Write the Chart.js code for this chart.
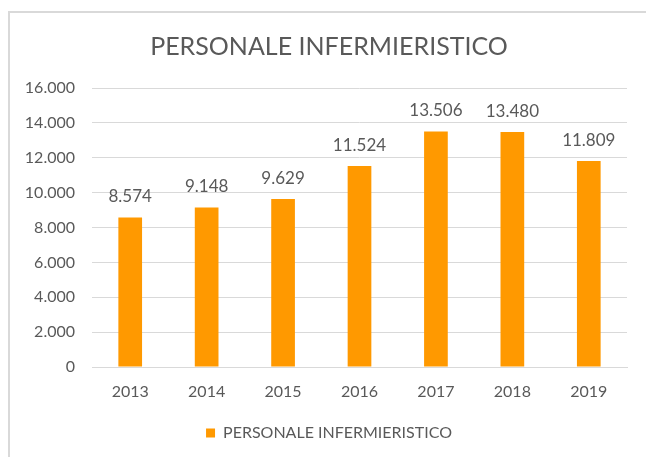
<!DOCTYPE html>
<html>
<head>
<meta charset="utf-8">
<script src="https://cdn.jsdelivr.net/npm/chart.js@4"></script>
<style>
  body { margin: 0; background: #fff; }
  #wrap { position: relative; width: 646px; height: 457px; }
</style>
</head>
<body>
<div id="wrap"><canvas id="nurseChart" width="646" height="457"></canvas></div>
<script>
const categories = ['2013', '2014', '2015', '2016', '2017', '2018', '2019'];
const nurses = [8574, 9148, 9629, 11524, 13506, 13480, 11809];
const yMin = 0, yMax = 16000, yStep = 2000;
const seriesName = 'PERSONALE INFERMIERISTICO';

const textColor = '#595959';
const gridColor = '#d9d9d9';
const barColor = '#ff9900';

// 8574 -> "8.574"
function fmt(v) {
  return String(v).replace(/\B(?=(\d{3})+(?!\d))/g, '.');
}

// white background and the grey frame round the chart
const framePlugin = {
  id: 'frame',
  beforeDraw(chart) {
    const ctx = chart.ctx;
    ctx.save();
    ctx.fillStyle = '#fff';
    ctx.fillRect(0, 0, chart.width, chart.height);
    ctx.strokeStyle = gridColor;
    ctx.lineWidth = 2;
    ctx.strokeRect(9, 12, 700, 500);
    ctx.restore();
  }
};

// value above each bar
const valueLabels = {
  id: 'valueLabels',
  afterDatasetsDraw(chart) {
    const ctx = chart.ctx;
    const meta = chart.getDatasetMeta(0);
    ctx.save();
    ctx.font = '17px Lato';
    ctx.fillStyle = textColor;
    ctx.textAlign = 'center';
    ctx.textBaseline = 'alphabetic';
    meta.data.forEach((bar, i) => {
      ctx.fillText(fmt(nurses[i]), bar.x, bar.y - 15);
    });
    ctx.restore();
  }
};

const ctx = document.getElementById('nurseChart').getContext('2d');
new Chart(ctx, {
  type: 'bar',
  data: {
    labels: categories,
    datasets: [{
      label: seriesName,
      data: nurses,
      yAxisID: 'y',
      backgroundColor: barColor,
      borderWidth: 0,
      barPercentage: 0.31,
      categoryPercentage: 1
    }]
  },
  options: {
    responsive: false,
    animation: false,
    events: [],
    layout: { padding: { left: 12, right: 0, top: 0, bottom: 6 } },
    plugins: {
      title: {
        display: true,
        text: seriesName,
        color: textColor,
        font: { family: 'Lato', size: 25, weight: 'normal' },
        padding: { top: 32, bottom: 26 }
      },
      legend: {
        position: 'bottom',
        labels: {
          color: textColor,
          font: { family: 'Lato', size: 16 },
          boxWidth: 9,
          boxHeight: 9
        }
      },
      tooltip: { enabled: false }
    },
    scales: {
      x: {
        grid: { display: false, drawTicks: false },
        border: { color: gridColor, width: 1 },
        ticks: { color: textColor, font: { family: 'Lato', size: 16 }, padding: 15 },
        afterFit(scale) { scale.height = 48; }
      },
      y: {
        min: yMin,
        max: yMax,
        grid: { color: gridColor, lineWidth: 1, drawTicks: false },
        border: { display: false },
        ticks: {
          stepSize: yStep,
          color: textColor,
          font: { family: 'Lato', size: 16 },
          padding: 17,
          callback: v => fmt(v)
        },
        afterFit(scale) { scale.width = 80; }
      },
      // empty spacer on the right so the plot stops where the original does
      yRight: {
        position: 'right',
        grid: { display: false, drawTicks: false },
        border: { display: false },
        ticks: { display: false },
        afterFit(scale) { scale.width = 19; }
      }
    }
  },
  plugins: [framePlugin, valueLabels]
});
</script>
</body>
</html>
